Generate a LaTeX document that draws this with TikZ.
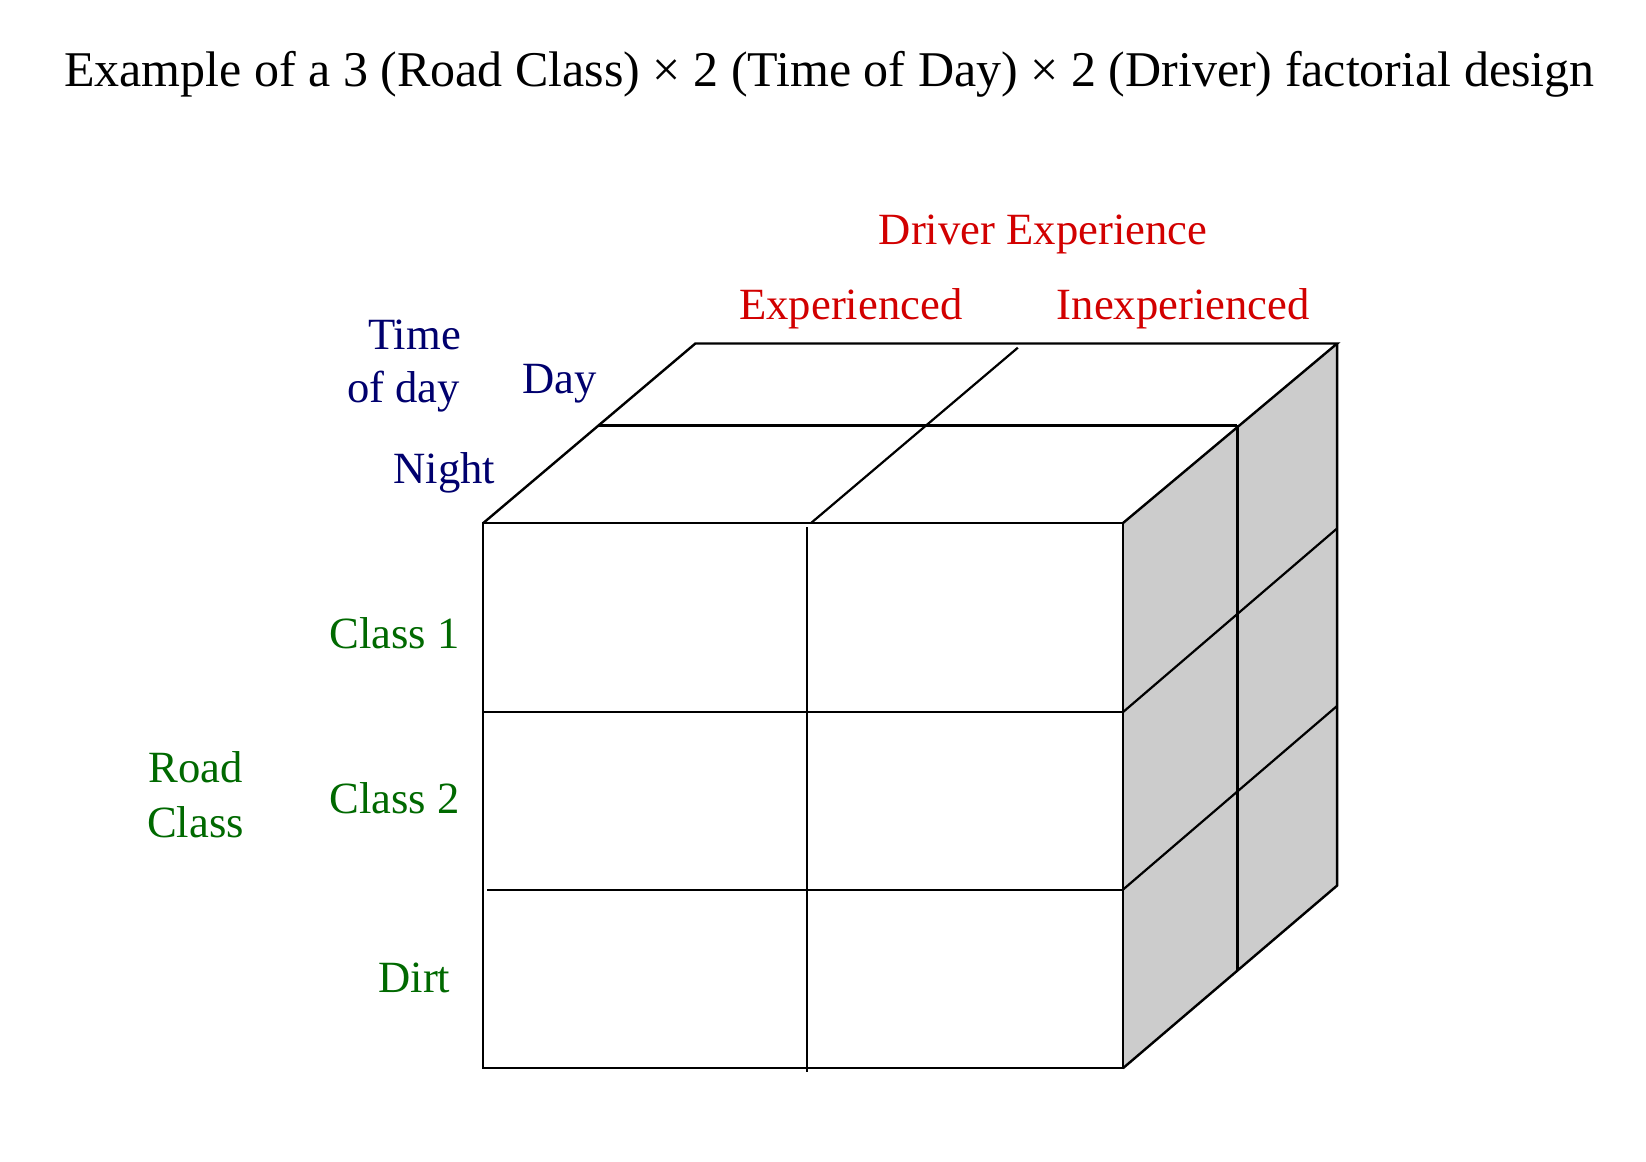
\documentclass[tikz,border=0pt]{standalone}
\usepackage{fontspec}
\setmainfont{Liberation Serif}
\definecolor{navy}{RGB}{0,0,110}
\definecolor{lblred}{RGB}{210,0,0}
\definecolor{lblgreen}{RGB}{0,105,0}
\definecolor{sidegray}{RGB}{204,204,204}
\tikzset{
  titlefont/.style={font=\fontsize{47.6}{56}\selectfont, text=black, inner sep=0pt},
  lbl/.style={font=\fontsize{42.5}{51}\selectfont, inner sep=0pt},
  timelbl/.style={lbl, text=navy},
  drvlbl/.style={lbl, text=lblred},
  roadlbl/.style={lbl, text=lblgreen},
  edge/.style={draw=black, line width=2.3pt, line join=miter},
  thin edge/.style={draw=black, line width=2.1pt},
}
\begin{document}
\begin{tikzpicture}[x=1pt,y=-1pt]
\useasboundingbox (0,0) rectangle (1567,1106);
\fill[white] (0,0) rectangle (1567,1106);

% title
\node[titlefont, anchor=base] (title) at (789.5,82) {Example of a 3 (Road Class) × 2 (Time of Day) × 2 (Driver) factorial design};

% driver labels
\node[drvlbl, anchor=base] (drv) at (993,233) {Driver Experience};
\node[drvlbl, anchor=base] (exp) at (810,304) {Experienced};
\node[drvlbl, anchor=base] (inexp) at (1126.5,304) {Inexperienced};

% time labels
\node[timelbl, anchor=base east] (time1) at (439,333) {Time};
\node[timelbl, anchor=base east] (time2) at (438,383) {of day};
\node[timelbl, anchor=base west] (day) at (497,375) {Day};
\node[timelbl, anchor=base west] (night) at (374.5,460) {Night};

% road labels
\node[roadlbl, anchor=base] (road1) at (186,745) {Road};
\node[roadlbl, anchor=base] (road2) at (186,797) {Class};
\node[roadlbl, anchor=base west] (c1) at (313.5,617) {Class 1};
\node[roadlbl, anchor=base west] (c2) at (313.5,774) {Class 2};
\node[roadlbl, anchor=base west] (dirt) at (360,945) {Dirt};

% coordinates of the cube
\coordinate (FTL) at (460,498);
\coordinate (FTR) at (1069,498);
\coordinate (FBL) at (460,1017);
\coordinate (FBR) at (1069,1017);
\coordinate (BTL) at (662,327);
\coordinate (BTR) at (1273,327);
\coordinate (BBR) at (1273,843);

% right face fill
\fill[sidegray] (FTR) -- (BTR) -- (BBR) -- (FBR) -- cycle;

% front face
\draw[edge] (FTL) rectangle (FBR);
\draw[thin edge] (460,678) -- (1069,678);
\draw[thin edge] (464,847) -- (1069,847);
\draw[thin edge] (768,502) -- (768,1021);

% top face
\draw[edge] (FTL) -- (BTL) -- (BTR) -- (FTR);
\draw[thin edge] (569,405) -- (1178,405);
\draw[thin edge] (772,498) -- (969,331);

% right face
\draw[edge] (BTR) -- (BBR) -- (FBR);
\draw[thin edge] (1069,678) -- (1273,503);
\draw[thin edge] (1069,847) -- (1273,672);
\draw[thin edge] (1178,405) -- (1178,923);
\end{tikzpicture}
\end{document}
